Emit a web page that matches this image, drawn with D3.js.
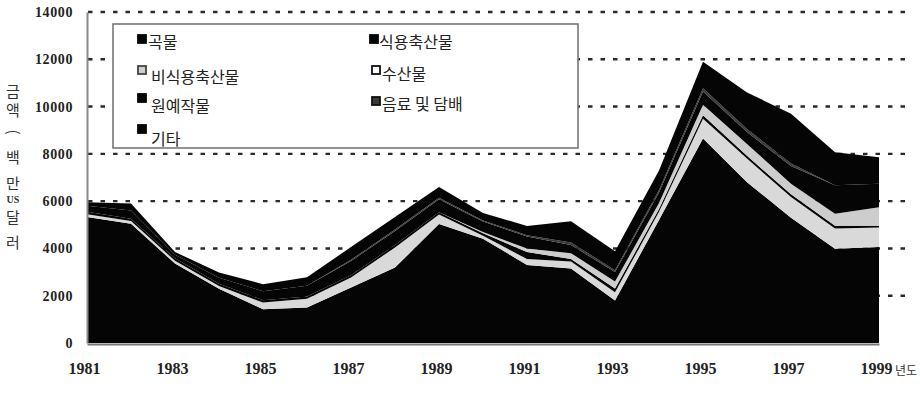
<!DOCTYPE html>
<html>
<head>
<meta charset="utf-8">
<script src="https://cdn.jsdelivr.net/npm/d3@7"></script>
<style>
  body { margin: 0; background: #fff; }
  .tick text { font-family: "Liberation Serif", serif; font-weight: bold; fill: #222; }
</style>
</head>
<body>
<div id="chart"></div>
<script>
// data (million US$)
let years = d3.range(1981, 2000);
let grain     = [5330, 5040, 3360, 2290, 1430, 1500, 2350, 3190, 5030, 4410, 3300, 3150, 1800, 5200, 8650, 6800, 5300, 3990, 4060];
let nonFood   = [120, 120, 120, 120, 280, 370, 420, 850, 400, 130, 250, 300, 350, 350, 830, 1000, 870, 850, 830];
let meat      = [100, 100, 100, 100, 100, 100, 100, 100, 100, 100, 300, 100, 150, 120, 150, 120, 120, 120, 70];
let fishery   = [0, 0, 0, 0, 0, 0, 0, 0, 0, 50, 150, 250, 300, 250, 450, 500, 450, 510, 780];
let horti     = [250, 340, 150, 250, 380, 450, 600, 600, 550, 450, 500, 350, 400, 450, 560, 500, 750, 1200, 1000];
let beverage  = [0, 0, 0, 0, 0, 0, 50, 60, 60, 40, 60, 100, 80, 100, 130, 130, 100, 0, 0];
let other     = [150, 300, 120, 220, 300, 360, 540, 530, 460, 320, 390, 900, 800, 830, 1130, 1550, 2110, 1400, 1120];

let yTicks = [0, 2000, 4000, 6000, 8000, 10000, 12000, 14000];
let xTicks = [1981, 1983, 1985, 1987, 1989, 1991, 1993, 1995, 1997, 1999];

// series: key, legend label, fill
let series = [
    {key: 'grain',    label: '곡물',        fill: '#050505'},
    {key: 'nonFood',  label: '비식용축산물', fill: '#d9d9d9'},
    {key: 'meat',     label: '식용축산물',   fill: '#050505'},
    {key: 'fishery',  label: '수산물',       fill: '#cdcdcd'},
    {key: 'horti',    label: '원예작물',     fill: '#050505'},
    {key: 'beverage', label: '음료 및 담배', fill: '#3a3a3a'},
    {key: 'other',    label: '기타',         fill: '#050505'}
];
let values = {grain, nonFood, meat, fishery, horti, beverage, other};

let table = years.map((yr, i) => {
    let row = {year: yr};
    series.forEach(s => { row[s.key] = values[s.key][i]; });
    return row;
});

let svgwidth = 920;
let svgheight = 408;

let svg = d3.select('#chart').append('svg')
    .attr('width', svgwidth)
    .attr('height', svgheight)
    .style('display', 'block');

let x = d3.scaleLinear().domain([1981, 1999]).range([87, 879]);
let y = d3.scaleLinear().domain([0, 14000]).range([343, 12]);

// dotted grid lines
svg.append('g').selectAll('line')
    .data(yTicks.filter(d => d > 0))
    .enter()
    .append('line')
    .attr('x1', 88)
    .attr('x2', 905)
    .attr('y1', d => y(d))
    .attr('y2', d => y(d))
    .attr('stroke', '#2a2a2a')
    .attr('stroke-width', 2.4)
    .attr('stroke-dasharray', '4.5 8');

// stacked areas
let stacked = d3.stack().keys(series.map(s => s.key))(table);

let area = d3.area()
    .x(d => x(d.data.year))
    .y0(d => y(d[0]))
    .y1(d => y(d[1]));

svg.append('g').selectAll('path')
    .data(stacked)
    .enter()
    .append('path')
    .attr('d', area)
    .attr('fill', (d, i) => series[i].fill);

// axes
let leftAxis = d3.axisLeft(y).tickValues(yTicks).tickFormat(d3.format('d'))
    .tickSize(0).tickSizeOuter(0).tickPadding(14);
let yAxisG = svg.append('g')
    .attr('transform', 'translate(87,0)')
    .call(leftAxis);
yAxisG.select('.domain').attr('stroke', '#888').attr('stroke-width', 2);
yAxisG.selectAll('text').style('font-size', '14px').style('letter-spacing', '0.6px');

let bottomAxis = d3.axisBottom(x).tickValues(xTicks).tickFormat(d3.format('d'))
    .tickSize(0).tickSizeOuter(0).tickPadding(19);
let xAxisG = svg.append('g')
    .attr('transform', 'translate(0,344)')
    .call(bottomAxis);
xAxisG.select('.domain').attr('stroke', '#777').attr('stroke-width', 2);
xAxisG.selectAll('text').style('font-size', '16px').attr('dx', -3);

// unit after the last year
svg.append('text')
    .attr('x', 895)
    .attr('y', 375)
    .style('font-family', '"Noto Sans CJK KR"')
    .style('font-size', '12px')
    .attr('fill', '#333')
    .text('년도');

// vertical y-axis title
let titleChars = [
    {t: '금', y: 97}, {t: '액', y: 116}, {t: '(', y: 137, rot: true},
    {t: '백', y: 163}, {t: '만', y: 189}, {t: '달', y: 223}, {t: '러', y: 248}
];
let titleG = svg.append('g')
    .style('font-family', '"Noto Sans CJK KR"')
    .style('font-size', '15px')
    .attr('fill', '#333');
titleChars.forEach(c => {
    let t = titleG.append('text')
        .attr('x', 13)
        .attr('y', c.y)
        .attr('text-anchor', 'middle')
        .text(c.t);
    if (c.rot) t.attr('transform', `rotate(90,13,${c.y - 5})`);
});
titleG.append('text')
    .attr('x', 13)
    .attr('y', 203)
    .attr('text-anchor', 'middle')
    .style('font-family', '"Liberation Serif"')
    .style('font-weight', 'bold')
    .style('font-size', '10px')
    .text('US');

// legend
let legend = svg.append('g');
legend.append('rect')
    .attr('x', 113)
    .attr('y', 24)
    .attr('width', 465)
    .attr('height', 124)
    .attr('fill', '#fff')
    .attr('stroke', '#777')
    .attr('stroke-width', 1.6);

let legendItems = [
    {label: '곡물',        sx: 138, sy: 35, tx: 148, ty: 48, fill: '#050505', stroke: '#050505'},
    {label: '식용축산물',   sx: 370, sy: 35, tx: 379, ty: 48, fill: '#050505', stroke: '#050505'},
    {label: '비식용축산물', sx: 138, sy: 66, tx: 151, ty: 83, fill: '#cfcfcf', stroke: '#444'},
    {label: '수산물',       sx: 372, sy: 66, tx: 382, ty: 80, fill: '#fff', stroke: '#111'},
    {label: '원예작물',     sx: 138, sy: 94, tx: 151, ty: 112, fill: '#050505', stroke: '#050505'},
    {label: '음료 및 담배', sx: 372, sy: 97, tx: 382, ty: 110, fill: '#3a3a3a', stroke: '#111'},
    {label: '기타',         sx: 138, sy: 125, tx: 151, ty: 145, fill: '#050505', stroke: '#050505'}
];

legend.selectAll('.swatch')
    .data(legendItems)
    .enter()
    .append('rect')
    .classed('swatch', true)
    .attr('x', d => d.sx)
    .attr('y', d => d.sy)
    .attr('width', 8)
    .attr('height', 8)
    .attr('fill', d => d.fill)
    .attr('stroke', d => d.stroke)
    .attr('stroke-width', 1.8);

legend.selectAll('.ltext')
    .data(legendItems)
    .enter()
    .append('text')
    .classed('ltext', true)
    .attr('x', d => d.tx)
    .attr('y', d => d.ty)
    .style('font-family', '"Noto Sans CJK KR"')
    .style('font-size', '16px')
    .attr('fill', '#222')
    .text(d => d.label);
</script>
</body>
</html>
